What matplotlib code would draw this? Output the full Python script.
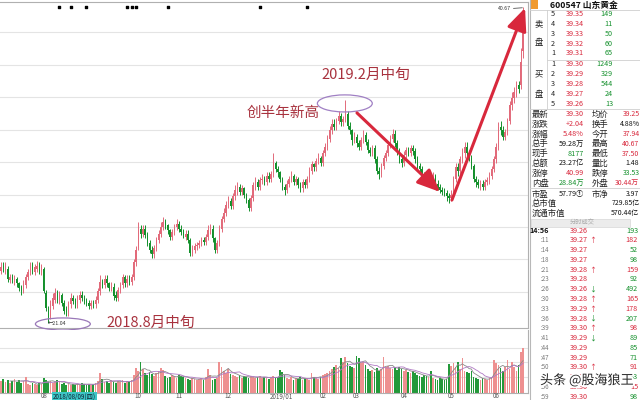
import numpy as np
import matplotlib
matplotlib.use("Agg")
import matplotlib.pyplot as plt
from matplotlib.patches import Ellipse, Rectangle
from matplotlib.lines import Line2D
import matplotlib.patheffects as pe

plt.rcParams['font.family'] = ['Noto Sans CJK SC', 'DejaVu Sans']

# daily K-line 600547, 2018-07 .. 2019-06 (one row per month)
opens = [
    24.3, 24.6, 24.3, 24.4, 23.7, 23.9, 23.6, 23.8, 23.5, 23.3, 23.0, 23.4, 23.9, 24.2, 24.7, 24.2, 24.4, 24.7, 24.2,
    24.4, 22.9, 21.9, 21.5, 22.1, 22.5, 22.9, 22.4, 22.8, 22.3, 21.9, 21.7, 22.2, 22.6, 22.4, 22.2, 22.5, 22.8, 22.6, 22.4, 22.3, 22.1, 22.3,
    22.2, 22.5, 23.0, 23.6, 23.4, 23.8, 23.5, 23.2, 23.3, 22.8, 22.6, 23.1, 23.4, 23.9, 23.5, 23.8, 23.6, 23.9, 24.8,
    25.7, 26.9, 26.6, 26.9, 26.5, 26.0, 25.6, 25.3, 25.7, 26.2, 26.6, 27.0, 27.3, 27.1, 26.8, 26.4, 26.7, 27.0,
    27.2, 26.9, 26.7, 26.4, 26.6, 26.2, 25.4, 25.6, 25.8, 25.9, 26.0, 26.2, 26.1, 26.4, 26.8, 26.9, 26.3, 25.6, 26.0, 26.9, 27.5, 27.9,
    28.4, 28.6, 28.3, 28.9, 29.3, 29.5, 29.2, 29.4, 29.0, 28.7, 28.2, 28.8, 29.6, 29.8, 29.5, 29.9, 30.0, 29.8, 30.2, 30.0,
    30.3, 31.0, 30.6, 30.4, 30.0, 29.5, 29.3, 29.7, 30.0, 30.2, 29.8, 30.0, 29.6, 29.4, 29.8, 29.6, 30.0, 30.5, 30.9, 30.7, 31.1, 31.3,
    31.0, 31.6, 32.0, 32.5, 33.0, 33.4, 33.2, 33.6, 33.9, 33.5, 33.7, 34.0, 33.3, 33.0, 32.4,
    32.6, 32.2, 32.0, 32.4, 32.7, 32.3, 31.8, 31.6, 31.9, 31.2, 30.5, 30.3, 30.8, 31.3, 31.6, 32.1, 32.5, 32.8, 32.2, 31.7, 31.2,
    31.0, 31.5, 31.8, 31.6, 31.9, 31.7, 31.2, 30.8, 30.6, 30.1, 30.0, 29.8, 30.0, 29.9, 30.2, 29.7, 29.5, 29.3, 29.2, 29.1, 28.9,
    28.8, 29.0, 30.0, 30.7, 30.5, 31.2, 31.6, 32.0, 31.6, 31.3, 30.8, 30.0, 29.8, 29.6, 29.7, 29.5, 29.8, 29.9, 30.2, 30.6,
    31.2, 32.0, 33.2, 33.0, 32.6, 32.9, 33.6, 34.6, 35.0, 35.4, 35.8, 35.8, 37.94,
]
closes = [
    24.5, 24.4, 24.6, 23.8, 23.9, 23.7, 23.8, 23.5, 23.2, 23.0, 23.5, 23.9, 24.2, 24.6, 24.3, 24.5, 24.6, 24.3, 24.5,
    23.0, 22.0, 21.4, 22.2, 22.6, 22.9, 22.5, 22.8, 22.3, 21.8, 21.7, 22.2, 22.6, 22.4, 22.2, 22.6, 22.8, 22.6, 22.4, 22.3, 22.1, 22.3, 22.2,
    22.5, 23.0, 23.6, 23.4, 23.8, 23.5, 23.2, 23.4, 22.7, 22.6, 23.1, 23.4, 23.9, 23.5, 23.8, 23.6, 23.9, 24.8, 25.6,
    26.8, 26.6, 26.9, 26.5, 26.0, 25.6, 25.3, 25.7, 26.2, 26.6, 27.0, 27.3, 27.1, 26.8, 26.4, 26.7, 27.0, 27.2,
    26.9, 26.7, 26.5, 26.6, 26.2, 25.4, 25.6, 25.8, 25.9, 26.0, 26.2, 26.1, 26.4, 26.8, 26.9, 26.3, 25.6, 26.0, 26.9, 27.5, 27.9, 28.4,
    28.6, 28.3, 28.9, 29.3, 29.5, 29.2, 29.4, 29.0, 28.7, 28.2, 28.8, 29.6, 29.8, 29.5, 29.9, 30.0, 29.8, 30.2, 30.0, 30.3,
    31.0, 30.6, 30.4, 30.0, 29.5, 29.3, 29.7, 30.0, 30.2, 29.8, 30.0, 29.6, 29.4, 29.8, 29.6, 30.0, 30.5, 30.9, 30.7, 31.1, 31.3, 31.0,
    31.6, 32.0, 32.5, 33.0, 33.4, 33.2, 33.6, 33.9, 33.5, 33.7, 34.0, 33.3, 33.0, 32.4, 32.6,
    32.2, 32.0, 32.4, 32.7, 32.3, 31.8, 31.6, 31.9, 31.2, 30.5, 30.3, 30.8, 31.3, 31.6, 32.1, 32.5, 32.8, 32.2, 31.7, 31.2, 31.0,
    31.5, 31.8, 31.6, 31.9, 31.7, 31.2, 30.8, 30.6, 30.1, 30.0, 29.8, 30.0, 29.9, 30.2, 29.7, 29.5, 29.3, 29.2, 29.1, 28.9, 28.8,
    29.0, 30.0, 30.7, 30.5, 31.2, 31.6, 32.0, 31.6, 31.3, 30.8, 30.0, 29.8, 29.6, 29.7, 29.5, 29.8, 29.9, 30.2, 30.6, 31.2,
    32.0, 33.2, 33.0, 32.6, 32.9, 33.6, 34.6, 35.0, 35.4, 35.8, 35.6, 37.26, 39.30,
]
highs = [
    24.8, 24.8, 24.8, 24.6, 24.1, 24.1, 24.0, 23.9, 23.6, 23.4, 23.7, 24.1, 24.4, 24.8, 24.8, 24.7, 24.9, 24.8, 24.7,
    24.5, 23.1, 22.1, 22.5, 22.9, 23.2, 23.1, 23.0, 22.9, 22.5, 22.1, 22.4, 22.9, 22.8, 22.6, 22.8, 23.0, 23.0, 22.8, 22.6, 22.5, 22.5, 22.5,
    22.7, 23.2, 24.0, 23.8, 24.0, 24.0, 23.6, 23.6, 23.5, 23.0, 23.3, 23.6, 24.1, 24.0, 24.0, 24.0, 24.1, 25.0, 25.8,
    27.3, 27.1, 27.1, 27.1, 26.7, 26.2, 25.8, 25.9, 26.4, 26.8, 27.3, 27.6, 27.5, 27.2, 26.9, 26.9, 27.2, 27.5,
    27.4, 27.1, 26.9, 26.8, 26.8, 26.3, 25.9, 26.0, 26.1, 26.2, 26.4, 26.4, 26.6, 27.1, 27.2, 27.1, 26.4, 26.2, 27.1, 27.7, 28.2, 28.6,
    28.9, 28.8, 29.1, 29.6, 29.8, 29.7, 29.6, 29.5, 29.1, 28.8, 29.0, 29.8, 30.1, 30.0, 30.1, 30.3, 30.2, 30.4, 30.4, 30.5,
    31.6, 31.1, 30.8, 30.5, 30.1, 29.7, 29.9, 30.2, 30.5, 30.3, 30.2, 30.1, 29.8, 30.0, 30.0, 30.2, 30.7, 31.1, 31.0, 31.3, 31.6, 31.4,
    31.8, 32.2, 32.7, 33.3, 33.7, 33.7, 33.8, 34.2, 34.1, 33.9, 34.9, 34.2, 33.5, 33.1, 32.9,
    32.8, 32.4, 32.6, 33.0, 32.9, 32.5, 32.0, 32.1, 32.1, 31.4, 30.7, 31.0, 31.5, 31.8, 32.3, 32.7, 33.1, 33.0, 32.4, 31.9, 31.4,
    31.7, 32.0, 32.0, 32.1, 32.1, 31.9, 31.4, 31.0, 30.8, 30.4, 30.2, 30.2, 30.2, 30.4, 30.3, 29.9, 29.7, 29.5, 29.4, 29.3, 29.1,
    29.3, 30.2, 31.0, 31.0, 31.4, 31.9, 32.3, 32.3, 31.8, 31.5, 30.9, 30.2, 30.0, 29.9, 29.9, 30.0, 30.1, 30.4, 30.8, 31.4,
    32.2, 33.5, 33.6, 33.3, 33.1, 33.8, 34.8, 35.4, 35.7, 36.1, 36.1, 38.1, 40.67,
]
lows = [
    24.1, 24.2, 24.1, 23.6, 23.5, 23.5, 23.4, 23.3, 23.0, 22.8, 22.9, 23.2, 23.7, 24.0, 24.1, 24.0, 24.2, 24.1, 24.0,
    22.9, 21.8, 21.04, 21.3, 21.9, 22.3, 22.3, 22.2, 22.1, 21.6, 21.5, 21.5, 22.0, 22.2, 22.0, 22.0, 22.3, 22.4, 22.2, 22.1, 21.9, 21.9, 22.0,
    22.0, 22.3, 22.8, 23.2, 23.2, 23.3, 23.0, 23.0, 22.5, 22.4, 22.4, 22.9, 23.2, 23.3, 23.3, 23.4, 23.4, 23.7, 24.6,
    25.6, 26.3, 26.4, 26.3, 25.8, 25.4, 25.1, 25.1, 25.5, 26.0, 26.4, 26.8, 26.9, 26.6, 26.2, 26.2, 26.5, 26.8,
    26.7, 26.5, 26.3, 26.2, 26.0, 25.2, 25.2, 25.4, 25.6, 25.7, 25.8, 25.9, 25.9, 26.2, 26.6, 26.1, 25.4, 25.4, 25.8, 26.7, 27.3, 27.7,
    28.2, 28.1, 28.1, 28.7, 29.0, 29.0, 29.0, 28.8, 28.5, 28.0, 28.0, 28.6, 29.3, 29.3, 29.3, 29.7, 29.6, 29.6, 29.8, 29.8,
    30.1, 30.4, 30.1, 29.8, 29.3, 29.0, 29.1, 29.5, 29.8, 29.6, 29.6, 29.4, 29.2, 29.2, 29.4, 29.4, 29.8, 30.3, 30.5, 30.5, 30.9, 30.8,
    30.8, 31.4, 31.8, 32.3, 32.8, 33.0, 33.0, 33.4, 33.3, 33.3, 33.5, 33.1, 32.8, 32.1, 32.2,
    32.0, 31.8, 31.8, 32.2, 32.1, 31.6, 31.4, 31.4, 31.0, 30.3, 30.0, 30.1, 30.6, 31.1, 31.4, 31.9, 32.3, 32.0, 31.5, 31.0, 30.7,
    30.8, 31.3, 31.4, 31.4, 31.5, 31.0, 30.6, 30.3, 29.9, 29.7, 29.6, 29.6, 29.7, 29.7, 29.5, 29.3, 29.1, 29.0, 28.9, 28.6, 28.5,
    28.6, 28.8, 29.8, 30.2, 30.3, 31.0, 31.3, 31.4, 31.1, 30.6, 29.8, 29.5, 29.4, 29.3, 29.3, 29.3, 29.6, 29.7, 30.0, 30.4,
    31.0, 31.8, 32.7, 32.4, 32.4, 32.7, 33.4, 34.3, 34.7, 35.1, 35.3, 35.6, 37.50,
]
# volume (万手, roughly)
volumes = [
    12, 14, 11, 13, 10, 12, 14, 11, 13, 10, 12, 16, 9, 8, 10, 9, 8, 10, 9,
    15, 13, 11, 12, 10, 11, 13, 12, 9, 10, 8, 9, 8, 9, 8, 9, 8, 10, 9, 8, 9, 8, 9,
    10, 12, 20, 14, 11, 12, 10, 13, 11, 10, 12, 11, 13, 10, 12, 11, 13, 18, 25,
    22, 31, 24, 20, 18, 21, 19, 17, 20, 22, 25, 23, 17, 15, 16, 18, 17, 15,
    18, 17, 16, 15, 14, 13, 15, 14, 13, 14, 15, 13, 16, 24, 18, 13, 14, 15, 31, 26, 22, 20,
    24, 19, 18, 17, 16, 18, 15, 17, 16, 15, 17, 16, 15, 16, 17, 15, 16, 15, 14, 16,
    17, 15, 16, 23, 21, 18, 15, 14, 16, 13, 15, 14, 16, 13, 15, 14, 13, 20, 16, 15, 14, 16,
    18, 19, 20, 22, 24, 26, 28, 25, 35, 31, 36, 30, 27, 26, 25,
    37, 35, 30, 31, 28, 24, 22, 23, 21, 25, 22, 24, 36, 26, 27, 25, 24, 26, 23, 26, 24,
    22, 23, 21, 20, 22, 20, 18, 17, 16, 18, 17, 16, 22, 15, 14, 13, 15, 14, 13, 14, 29,
    27, 30, 26, 31, 24, 35, 22, 21, 20, 22, 16, 15, 14, 13, 15, 14, 13, 15, 16, 33,
    30, 28, 25, 22, 26, 33, 24, 31, 26, 22, 28, 41, 45,
]

month_labels = ['08', '10', '11', '12', '2019/01', '02', '03', '04', '05', '06']
month_starts = [19, 61, 79, 101, 121, 143, 158, 179, 200, 220]
news_days = [26, 31, 38, 56, 58, 60, 74, 115, 136]

low_day, low_price = 21, 21.04
peak_day, peak_price = 153, 34.9
bottom_day, bottom_price = 199, 28.5
top_day, top_price = 232, 40.67

# right-hand quote panel
ask_levels = ['5', '4', '3', '2', '1']
ask_prices = ['39.35', '39.34', '39.33', '39.32', '39.31']
ask_vols = ['149', '11', '50', '60', '65']
bid_levels = ['1', '2', '3', '4', '5']
bid_prices = ['39.30', '39.29', '39.28', '39.27', '39.26']
bid_vols = ['1249', '329', '544', '24', '13']

stat_names_l = ['最新', '涨跌', '涨幅', '总手', '现手', '总额', '涨停', '内盘', '市盈']
stat_vals_l = ['39.30', '+2.04', '5.48%', '59.28万', '8177', '23.27亿', '40.99', '28.84万', '57.79①']
stat_names_r = ['均价', '换手', '今开', '最高', '最低', '量比', '跌停', '外盘', '市净']
stat_vals_r = ['39.25', '4.88%', '37.94', '40.67', '37.50', '1.48', '33.53', '30.44万', '3.97']
cap_names = ['总市值', '流通市值']
cap_vals = ['729.85亿', '570.44亿']

tick_times = ['14:56', ':11', ':14', ':18', ':21', ':23', ':26', ':30', ':33',
              ':36', ':39', ':41', ':44', ':47', ':50', ':53', ':56', ':59']
tick_prices = ['39.26', '39.27', '39.27', '39.27', '39.28', '39.28', '39.26', '39.28', '39.29',
               '39.28', '39.30', '39.29', '39.29', '39.29', '39.30', '39.29', '39.30', '39.30']
tick_marks = ['', '↑', '', '', '↑', '', '↓', '↑', '↑', '↓', '↑', '↓', '', '', '↑', '', '', '']
tick_vols = ['193', '182', '52', '98', '159', '92', '492', '165', '178',
             '207', '98', '89', '85', '71', '91', '83', '15', '98']
tick_sides = 'SBSSBSSBBSBSSSBSBS'

RED = '#d8283c'
UP = '#e26a7a'
DN = '#14902c'
GRID = '#e4e4e4'
NOTE = '#a8323e'

W, H = 640, 400
fig = plt.figure(figsize=(6.4, 4.0), dpi=100)


def fx(px):
    return px / W


def fy(py):
    return 1 - py / H


def ptext(x, y, s, **kw):
    kw.setdefault('va', 'center')
    kw.setdefault('fontsize', 5.2)
    return fig.text(fx(x), fy(y), s, **kw)


def fline(x0, y0, x1, y1, color='#cfcfcf', lw=0.6):
    fig.add_artist(Line2D([fx(x0), fx(x1)], [fy(y0), fy(y1)], color=color, lw=lw))


o = np.array(opens)
c = np.array(closes)
h = np.array(highs)
l = np.array(lows)
v = np.array(volumes)
days = np.arange(len(c))
up = c >= o
cols = np.where(up, UP, DN)

# ---- price panel
ax = fig.add_axes([0, fy(328), fx(528), fy(2) - fy(328)])
ax.set_xlim(-0.44, 234.2)
ax.set_ylim(20.73, 40.98)
for g in np.linspace(22.97, 39.09, 9):
    ax.axhline(g, color=GRID, lw=0.8, zorder=0)
ax.vlines(days, l, h, colors=cols, lw=0.7, zorder=2)
ax.bar(days, np.maximum(np.abs(c - o), 0.05), bottom=np.minimum(o, c),
       width=0.62, color=cols, linewidth=0, zorder=3)
ax.set_xticks([])
ax.set_yticks([])
ax.spines['left'].set_visible(False)
for s in ['top', 'right', 'bottom']:
    ax.spines[s].set_color('#b0b0b0')
    ax.spines[s].set_linewidth(0.8)

ax.scatter(news_days, [0.985] * len(news_days), s=3, marker='s', color='black',
           transform=ax.get_xaxis_transform(), zorder=4)

# low marker + notes
ax.text(low_day - 0.3, low_price - 0.05, '←21.04', fontsize=3.8, va='center', ha='left', color='#333')
ax.add_patch(Ellipse((low_day + 6.5, low_price - 0.06), 24.4, 0.75, fill=False,
                     ec='#9a78b8', lw=0.9, clip_on=False, zorder=5))
ax.text(low_day + 26, low_price + 0.01, '2018.8月中旬', fontsize=10.5, color=NOTE, va='center', ha='left')

ax.add_patch(Ellipse((peak_day - 0.2, peak_price - 0.22), 24.4, 1.06, fill=False,
                     ec='#a080c4', lw=0.9, zorder=5))
ax.text(peak_day - 43.8, peak_price - 0.8, '创半年新高', fontsize=10.5, color=NOTE, va='center', ha='left')
ax.text(peak_day - 10.8, peak_price + 1.55, '2019.2月中旬', fontsize=10.5, color=NOTE, va='center', ha='left')

arrow_kw = dict(arrowstyle='-|>,head_length=1.15,head_width=0.5', color=RED, lw=2.2,
                mutation_scale=12, shrinkA=0, shrinkB=0)
ax.annotate('', xy=(bottom_day - 3.9, bottom_price + 0.68), xytext=(peak_day + 5.2, peak_price - 0.81),
            arrowprops=arrow_kw, zorder=6)
ax.annotate('', xy=(top_day + 0.9, top_price - 0.06), xytext=(bottom_day + 1.4, bottom_price + 0.18),
            arrowprops=arrow_kw, zorder=6)
ax.annotate('40.67', xy=(top_day - 0.3, top_price - 0.05), xytext=(top_day - 5.5, top_price - 0.12),
            fontsize=3.8, ha='right', va='center', color='#333',
            arrowprops=dict(arrowstyle='-', lw=0.5, color='#333', shrinkA=0, shrinkB=0))

# ---- volume panel
axv = fig.add_axes([0, fy(393), fx(528), fy(330) - fy(393)])
axv.set_xlim(-0.44, 234.2)
axv.set_ylim(0, 63)
for g in [16, 31, 45]:
    axv.axhline(g, color=GRID, lw=0.8, zorder=0)
vcols = np.where(up, '#ee9090', '#23993a')
axv.bar(days, v, width=0.7, color=vcols, linewidth=0, zorder=2)
ma5 = np.convolve(v, np.ones(5) / 5, mode='valid')
ma10 = np.convolve(v, np.ones(10) / 10, mode='valid')
axv.plot(days[4:], ma5, color='#8a8a8a', lw=0.6, zorder=3)
axv.plot(days[9:], ma10, color='#b07ac4', lw=0.6, zorder=3)
axv.set_xticks([])
axv.set_yticks([])
for s in ['left', 'top']:
    axv.spines[s].set_visible(False)
for s in ['right', 'bottom']:
    axv.spines[s].set_color('#b0b0b0')
    axv.spines[s].set_linewidth(0.8)

for lab, d in zip(month_labels, month_starts):
    ha = 'left' if '/' in lab else 'center'
    xd = d - 1.5 if '/' in lab else d
    axv.text(xd, -3.5, lab, fontsize=4.5, color='#555', ha=ha, va='center', clip_on=False)
ptext(53, 396.5, '2018/08/09(四)', fontsize=4.5, color='#123', ha='left',
      bbox=dict(boxstyle='square,pad=0.15', fc='#3cc6c6', ec='none'))

# ---- right quote panel
fline(530, 0, 530, 400, color='#b8b8b8', lw=0.8)
fig.add_artist(Rectangle((fx(530.5), fy(9)), fx(7), fy(0) - fy(9), transform=fig.transFigure,
                         fc='#f09a30', ec='none'))
ptext(550, 5, '600547 山东黄金', fontsize=6.3, fontweight='bold', color='#111', ha='left')
fline(530, 9.5, 640, 9.5)
fline(547, 9.5, 547, 109)

ptext(539, 24, '卖', fontsize=6, color='#222', ha='center')
ptext(539, 43, '盘', fontsize=6, color='#222', ha='center')
for k in range(5):
    y = 14.5 + 9.7 * k
    ptext(553, y, ask_levels[k], color='#222', ha='center')
    ptext(584, y, ask_prices[k], color=RED, ha='right')
    ptext(613, y, ask_vols[k], color=DN, ha='right')
fline(547, 59.5, 640, 59.5)
ptext(539, 74, '买', fontsize=6, color='#222', ha='center')
ptext(539, 94, '盘', fontsize=6, color='#222', ha='center')
for k in range(5):
    y = 64.5 + 9.9 * k
    ptext(553, y, bid_levels[k], color='#222', ha='center')
    ptext(584, y, bid_prices[k], color=RED, ha='right')
    ptext(613, y, bid_vols[k], color=DN, ha='right')
fline(530, 109, 640, 109)

left_cols = [RED, RED, RED, '#111', DN, '#111', RED, DN, '#111']
right_cols = [RED, '#111', RED, RED, RED, '#111', DN, RED, '#111']
for k in range(len(stat_names_l)):
    y = 114.5 + 9.8 * k + (1.5 if k == 8 else 0)
    ptext(532, y, stat_names_l[k], fontsize=6, color='#222', ha='left')
    ptext(584, y, stat_vals_l[k], color=left_cols[k], ha='right')
    ptext(592, y, stat_names_r[k], fontsize=6, color='#222', ha='left')
    ptext(639.5, y, stat_vals_r[k], fontsize=5, color=right_cols[k], ha='right')
fline(530, 188, 640, 188)
for k in range(2):
    y = 203.5 + 9.8 * k
    ptext(532, y, cap_names[k], fontsize=6, color='#222', ha='left')
    ptext(639.5, y, cap_vals[k], fontsize=5, color='#111', ha='right')
fig.add_artist(Rectangle((fx(531), fy(227)), fx(99), fy(219) - fy(227), transform=fig.transFigure,
                         fc='#ececec', ec='#d8d8d8', lw=0.5))
ptext(582, 223, '分时成交', fontsize=4.5, color='#aaa', ha='center')

for k in range(len(tick_times)):
    y = 230.5 + 9.78 * k
    first = k == 0
    ptext(549, y, tick_times[k], fontsize=5.2 if first else 4.4,
          color='#111' if first else '#777', fontweight='bold' if first else 'normal', ha='right')
    ptext(588, y, tick_prices[k], color=RED, ha='right')
    if tick_marks[k]:
        ptext(589, y, tick_marks[k], fontsize=5, color=RED if tick_marks[k] == '↑' else DN, ha='left')
    ptext(638, y, tick_vols[k], color=RED if tick_sides[k] == 'B' else DN, ha='right')

# watermark
ptext(540, 380, '头条 @股海狼王', fontsize=9.4, color='#262626', ha='left',
      path_effects=[pe.withStroke(linewidth=2.5, foreground='white')])

fig.savefig('out.png', dpi=100)
